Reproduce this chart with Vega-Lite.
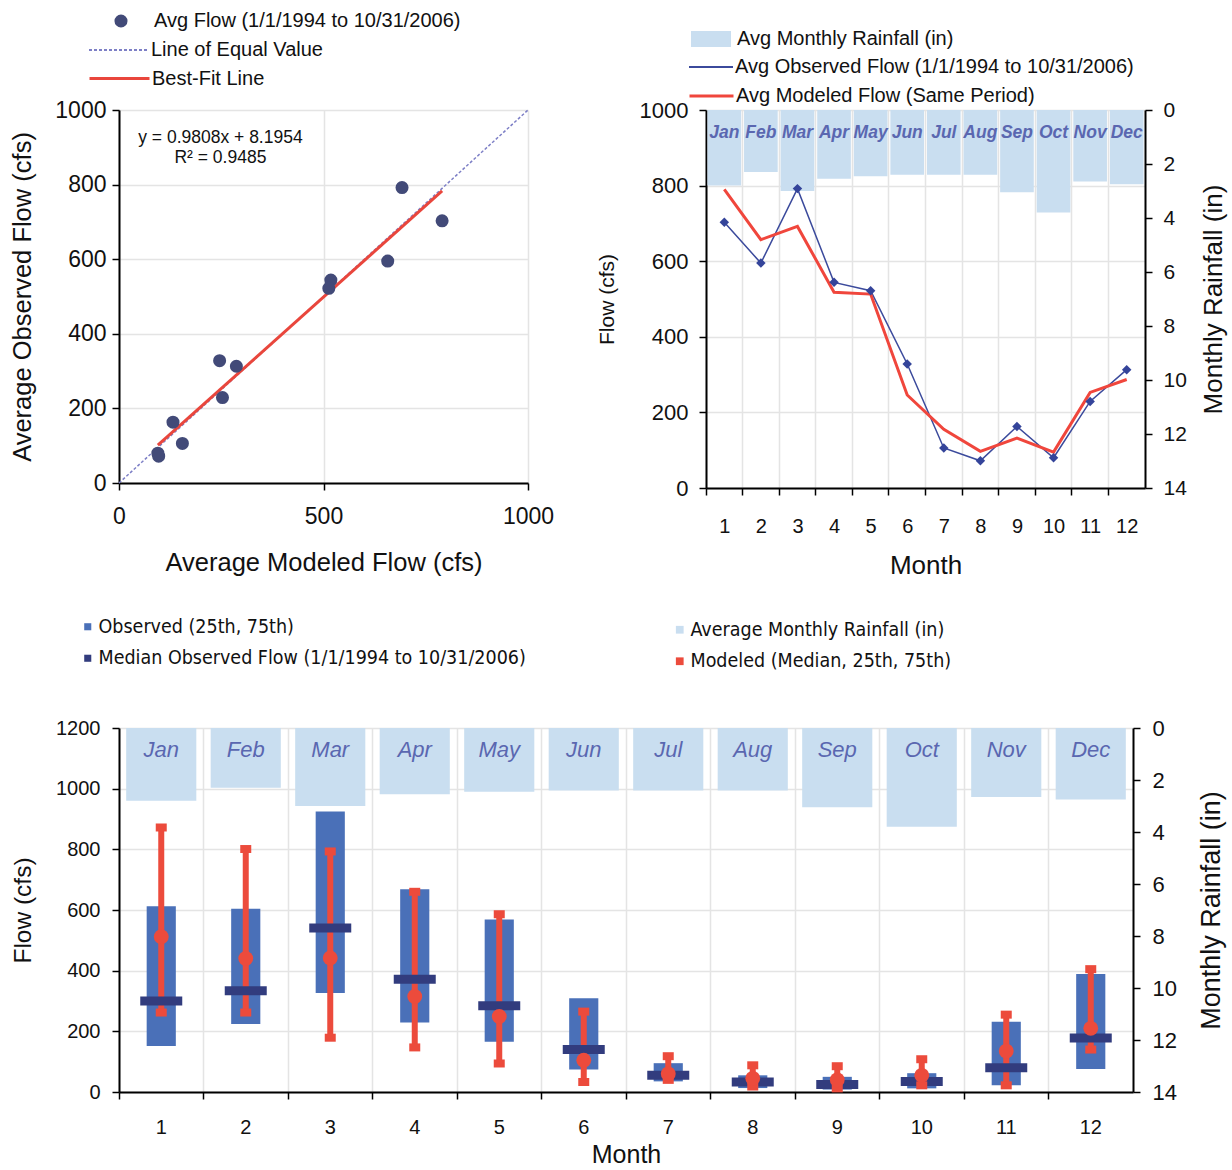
{
  "$schema": "https://vega.github.io/schema/vega-lite/v6.json",
  "background": "white",
  "padding": {"left": 10, "top": 11, "right": 2, "bottom": 0},
  "config": {
    "font": "Liberation Sans",
    "view": {"stroke": null},
    "axis": {
      "domainColor": "#000", "domainWidth": 2, "tickColor": "#000", "tickWidth": 1.5, "tickSize": 7,
      "labelFont": "Liberation Sans", "titleFont": "Liberation Sans", "labelFontSize": 20, "titleFontSize": 23,
      "titleFontWeight": "normal", "labelColor": "#111", "titleColor": "#111", "gridColor": "#e4e4e4", "gridWidth": 1.5,
      "labelFlush": false
    },
    "legend": {"labelFont": "Liberation Sans", "labelFontSize": 20, "labelColor": "#111", "padding": 0, "labelLimit": 700}
  },
  "datasets": {
    "m": [
      {"month": 1, "mon": "Jan", "obs": 703, "mod": 790, "rain": 2.8, "oq25": 152, "oq75": 612, "omed": 300, "mq25": 262, "mq75": 872, "mmed": 512},
      {"month": 2, "mon": "Feb", "obs": 595, "mod": 657, "rain": 2.3, "oq25": 224, "oq75": 604, "omed": 334, "mq25": 262, "mq75": 801, "mmed": 440},
      {"month": 3, "mon": "Mar", "obs": 792, "mod": 692, "rain": 3.0, "oq25": 326, "oq75": 925, "omed": 541, "mq25": 179, "mq75": 793, "mmed": 442},
      {"month": 4, "mon": "Apr", "obs": 544, "mod": 518, "rain": 2.55, "oq25": 229, "oq75": 668, "omed": 372, "mq25": 147, "mq75": 660, "mmed": 315},
      {"month": 5, "mon": "May", "obs": 522, "mod": 513, "rain": 2.45, "oq25": 166, "oq75": 569, "omed": 284, "mq25": 94, "mq75": 586, "mmed": 249},
      {"month": 6, "mon": "Jun", "obs": 328, "mod": 246, "rain": 2.4, "oq25": 74, "oq75": 309, "omed": 140, "mq25": 33, "mq75": 265, "mmed": 105},
      {"month": 7, "mon": "Jul", "obs": 106, "mod": 155, "rain": 2.4, "oq25": 35, "oq75": 95, "omed": 55, "mq25": 40, "mq75": 118, "mmed": 60},
      {"month": 8, "mon": "Aug", "obs": 72, "mod": 97, "rain": 2.4, "oq25": 13, "oq75": 55, "omed": 33, "mq25": 18, "mq75": 88, "mmed": 45},
      {"month": 9, "mon": "Sep", "obs": 163, "mod": 132, "rain": 3.05, "oq25": 8, "oq75": 50, "omed": 25, "mq25": 12, "mq75": 85, "mmed": 40},
      {"month": 10, "mon": "Oct", "obs": 80, "mod": 95, "rain": 3.8, "oq25": 12, "oq75": 62, "omed": 35, "mq25": 22, "mq75": 108, "mmed": 55},
      {"month": 11, "mon": "Nov", "obs": 229, "mod": 253, "rain": 2.65, "oq25": 22, "oq75": 232, "omed": 80, "mq25": 22, "mq75": 255, "mmed": 135},
      {"month": 12, "mon": "Dec", "obs": 313, "mod": 287, "rain": 2.75, "oq25": 76, "oq75": 389, "omed": 178, "mq25": 140, "mq75": 405, "mmed": 210}
    ],
    "eq": [
      {"mod": 0, "obs": 0, "s": "Line of Equal Value"},
      {"mod": 1000, "obs": 1000, "s": "Line of Equal Value"}
    ],
    "fit": [
      {"mod": 95, "obs": 101.4, "s": "Best-Fit Line"},
      {"mod": 790, "obs": 783, "s": "Best-Fit Line"}
    ],
    "ann": [
      {"mod": 248, "obs": 925, "t": "y = 0.9808x + 8.1954"},
      {"mod": 248, "obs": 871, "t": "R² = 0.9485"}
    ]
  },
  "vconcat": [
    {
      "hconcat": [
        {
          "width": 409, "height": 373,
          "layer": [
            {
              "data": {"name": "eq"},
              "mark": {"type": "line", "strokeWidth": 1.5, "strokeDash": [3, 2]},
              "encoding": {
                "x": {"field": "mod", "type": "quantitative", "scale": {"domain": [0, 1000], "nice": false}, "axis": {"orient": "bottom", "values": [0, 500, 1000], "format": "d", "grid": true, "labelPadding": 15, "titlePadding": 22, "labelFontSize": 23, "titleFontSize": 25.5}, "title": "Average Modeled Flow (cfs)"},
                "y": {"field": "obs", "type": "quantitative", "scale": {"domain": [0, 1000], "nice": false}, "axis": {"orient": "left", "values": [0, 200, 400, 600, 800, 1000], "format": "d", "grid": true, "labelPadding": 6, "titlePadding": 19, "labelFontSize": 23, "titleFontSize": 25.5}, "title": "Average Observed Flow (cfs)"},
                "stroke": {"field": "s", "type": "nominal", "scale": {"range": ["#7d7fc6"]}, "legend": {"title": null, "orient": "none", "legendX": -31, "legendY": -91, "symbolType": "stroke", "symbolSize": 3600, "symbolStrokeWidth": 2, "symbolDash": [3, 2], "labelOffset": 1}}
              }
            },
            {
              "data": {"name": "fit"},
              "mark": {"type": "line", "strokeWidth": 3},
              "encoding": {
                "x": {"field": "mod", "type": "quantitative", "scale": {"domain": [0, 1000], "nice": false}, "axis": {"orient": "bottom", "values": [0, 500, 1000], "format": "d", "grid": true, "labelPadding": 15, "titlePadding": 22, "labelFontSize": 23, "titleFontSize": 25.5}, "title": "Average Modeled Flow (cfs)"},
                "y": {"field": "obs", "type": "quantitative", "scale": {"domain": [0, 1000], "nice": false}, "axis": {"orient": "left", "values": [0, 200, 400, 600, 800, 1000], "format": "d", "grid": true, "labelPadding": 6, "titlePadding": 19, "labelFontSize": 23, "titleFontSize": 25.5}, "title": "Average Observed Flow (cfs)"},
                "color": {"field": "s", "type": "nominal", "scale": {"range": ["#e9463c"]}, "legend": {"title": null, "orient": "none", "legendX": -31, "legendY": -63, "symbolType": "stroke", "symbolSize": 3600, "symbolStrokeWidth": 3, "labelOffset": 1}}
              }
            },
            {
              "data": {"name": "m"},
              "mark": {"type": "point", "filled": true, "size": 170, "opacity": 1},
              "encoding": {
                "x": {"field": "mod", "type": "quantitative", "scale": {"domain": [0, 1000], "nice": false}, "axis": {"orient": "bottom", "values": [0, 500, 1000], "format": "d", "grid": true, "labelPadding": 15, "titlePadding": 22, "labelFontSize": 23, "titleFontSize": 25.5}, "title": "Average Modeled Flow (cfs)"},
                "y": {"field": "obs", "type": "quantitative", "scale": {"domain": [0, 1000], "nice": false}, "axis": {"orient": "left", "values": [0, 200, 400, 600, 800, 1000], "format": "d", "grid": true, "labelPadding": 6, "titlePadding": 19, "labelFontSize": 23, "titleFontSize": 25.5}, "title": "Average Observed Flow (cfs)"},
                "fill": {"datum": "Avg Flow (1/1/1994 to 10/31/2006)", "type": "nominal", "scale": {"range": ["#424a78"]}, "legend": {"title": null, "orient": "none", "legendX": -8, "legendY": -99, "symbolType": "circle", "symbolSize": 170, "labelOffset": 23}}
              }
            },
            {
              "data": {"name": "ann"},
              "mark": {"type": "text", "fontSize": 17.5, "color": "#111", "align": "center", "baseline": "middle"},
              "encoding": {
                "x": {"field": "mod", "type": "quantitative", "scale": {"domain": [0, 1000], "nice": false}, "axis": {"orient": "bottom", "values": [0, 500, 1000], "format": "d", "grid": true, "labelPadding": 15, "titlePadding": 22, "labelFontSize": 23, "titleFontSize": 25.5}, "title": "Average Modeled Flow (cfs)"},
                "y": {"field": "obs", "type": "quantitative", "scale": {"domain": [0, 1000], "nice": false}, "axis": {"orient": "left", "values": [0, 200, 400, 600, 800, 1000], "format": "d", "grid": true, "labelPadding": 6, "titlePadding": 19, "labelFontSize": 23, "titleFontSize": 25.5}, "title": "Average Observed Flow (cfs)"},
                "text": {"field": "t"}
              }
            }
          ]
        },
        {
          "width": 439, "height": 378,
          "data": {"name": "m"},
          "resolve": {"scale": {"x": "independent", "y": "independent"}},
          "layer": [
            {
              "layer": [
                {
                  "mark": {"type": "bar", "width": {"band": 0.92}},
                  "encoding": {
                    "x": {"field": "month", "type": "ordinal", "scale": {"paddingInner": 0, "paddingOuter": 0}, "axis": {"orient": "bottom", "bandPosition": 0, "labels": false, "ticks": true, "grid": true, "domain": true}, "title": null},
                    "y": {"field": "rain", "type": "quantitative", "scale": {"domain": [0, 14], "reverse": true, "nice": false}, "axis": {"orient": "right", "values": [0, 2, 4, 6, 8, 10, 12, 14], "grid": false, "labelPadding": 11, "titlePadding": 14, "labelFontSize": 21, "titleFontSize": 26, "titleAngle": 270, "titleBaseline": "top"}, "title": "Monthly Rainfall (in)"},
                    "fill": {"datum": "Avg Monthly Rainfall (in)", "type": "nominal", "scale": {"range": ["#c9def0"]}, "legend": {"title": null, "orient": "none", "legendX": -16, "legendY": -92, "symbolType": "M-1,-0.4H1V0.4H-1Z", "symbolSize": 1600, "labelOffset": 5}}
                  }
                },
                {
                  "mark": {"type": "text", "fontSize": 17.5, "fontStyle": "italic", "fontWeight": "bold", "color": "#5a67b0", "baseline": "middle", "align": "center"},
                  "encoding": {
                    "x": {"field": "month", "type": "ordinal", "scale": {"paddingInner": 0, "paddingOuter": 0}, "axis": {"orient": "bottom", "bandPosition": 0, "labels": false, "ticks": true, "grid": true, "domain": true}, "title": null},
                    "y": {"datum": 0.85, "type": "quantitative", "scale": {"domain": [0, 14], "reverse": true, "nice": false}, "axis": {"orient": "right", "values": [0, 2, 4, 6, 8, 10, 12, 14], "grid": false, "labelPadding": 11, "titlePadding": 14, "labelFontSize": 21, "titleFontSize": 26, "titleAngle": 270, "titleBaseline": "top"}, "title": "Monthly Rainfall (in)"},
                    "text": {"field": "mon"}
                  }
                }
              ]
            },
            {
              "layer": [
                {
                  "mark": {"type": "line", "strokeWidth": 1.5},
                  "encoding": {
                    "x": {"field": "month", "type": "ordinal", "scale": {"paddingInner": 0, "paddingOuter": 0}, "axis": {"orient": "bottom", "ticks": false, "domain": false, "grid": false, "labelAngle": 0, "labelPadding": 28, "titlePadding": 16, "titleFontSize": 26}, "title": "Month"},
                    "y": {"field": "obs", "type": "quantitative", "scale": {"domain": [0, 1000], "nice": false}, "axis": {"orient": "left", "values": [0, 200, 400, 600, 800, 1000], "format": "d", "grid": true, "labelPadding": 11, "titlePadding": 22, "labelFontSize": 22, "titleFontSize": 21}, "title": "Flow (cfs)"},
                    "stroke": {"datum": "Avg Observed Flow (1/1/1994 to 10/31/2006)", "type": "nominal", "scale": {"range": ["#3b4a9c"]}, "legend": {"title": null, "orient": "none", "legendX": -18, "legendY": -66, "symbolType": "stroke", "symbolSize": 1936, "symbolStrokeWidth": 2, "labelOffset": 1}}
                  }
                },
                {
                  "mark": {"type": "line", "strokeWidth": 3},
                  "encoding": {
                    "x": {"field": "month", "type": "ordinal", "scale": {"paddingInner": 0, "paddingOuter": 0}, "axis": {"orient": "bottom", "ticks": false, "domain": false, "grid": false, "labelAngle": 0, "labelPadding": 28, "titlePadding": 16, "titleFontSize": 26}, "title": "Month"},
                    "y": {"field": "mod", "type": "quantitative", "scale": {"domain": [0, 1000], "nice": false}, "axis": {"orient": "left", "values": [0, 200, 400, 600, 800, 1000], "format": "d", "grid": true, "labelPadding": 11, "titlePadding": 22, "labelFontSize": 22, "titleFontSize": 21}, "title": "Flow (cfs)"},
                    "color": {"datum": "Avg Modeled Flow (Same Period)", "type": "nominal", "scale": {"range": ["#f0463c"]}, "legend": {"title": null, "orient": "none", "legendX": -18, "legendY": -37.5, "symbolType": "stroke", "symbolSize": 1936, "symbolStrokeWidth": 3, "labelOffset": 1}}
                  }
                },
                {
                  "mark": {"type": "point", "shape": "diamond", "filled": true, "size": 90, "color": "#34449a", "opacity": 1},
                  "encoding": {
                    "x": {"field": "month", "type": "ordinal", "scale": {"paddingInner": 0, "paddingOuter": 0}, "axis": {"orient": "bottom", "ticks": false, "domain": false, "grid": false, "labelAngle": 0, "labelPadding": 28, "titlePadding": 16, "titleFontSize": 26}, "title": "Month"},
                    "y": {"field": "obs", "type": "quantitative", "scale": {"domain": [0, 1000], "nice": false}, "axis": {"orient": "left", "values": [0, 200, 400, 600, 800, 1000], "format": "d", "grid": true, "labelPadding": 11, "titlePadding": 22, "labelFontSize": 22, "titleFontSize": 21}, "title": "Flow (cfs)"}
                  }
                }
              ]
            }
          ]
        }
      ],
      "spacing": 42,
      "resolve": {
        "scale": {"color": "independent", "fill": "independent", "stroke": "independent", "strokeDash": "independent"},
        "legend": {"color": "independent", "fill": "independent", "stroke": "independent", "strokeDash": "independent"}
      }
    },
    {
      "width": 1014, "height": 364,
      "data": {"name": "m"},
      "resolve": {"scale": {"x": "independent", "y": "independent"}},
      "layer": [
        {
          "layer": [
            {
              "mark": {"type": "bar", "width": {"band": 0.83}},
              "encoding": {
                "x": {"field": "month", "type": "ordinal", "scale": {"paddingInner": 0, "paddingOuter": 0}, "axis": {"orient": "bottom", "bandPosition": 0, "labels": false, "ticks": true, "grid": true, "domain": true}, "title": null},
                "y": {"field": "rain", "type": "quantitative", "scale": {"domain": [0, 14], "reverse": true, "nice": false}, "axis": {"orient": "right", "values": [0, 2, 4, 6, 8, 10, 12, 14], "grid": false, "labelPadding": 12, "titlePadding": 22, "labelFontSize": 22, "titleFontSize": 27, "titleAngle": 270, "titleBaseline": "top"}, "title": "Monthly Rainfall (in)"},
                "fill": {"datum": "Average Monthly Rainfall (in)", "type": "nominal", "scale": {"domain": ["Average Monthly Rainfall (in)", "Modeled (Median, 25th, 75th)"], "range": ["#c9def0", "#ec4b3c"]}, "legend": {"title": null, "orient": "none", "legendX": 551, "legendY": -108, "symbolType": "square", "symbolSize": 60, "labelOffset": 1, "rowPadding": 10.5, "labelFont": "DejaVu Sans Condensed, Liberation Sans", "labelFontSize": 19.5}}
              }
            },
            {
              "mark": {"type": "text", "fontSize": 22, "fontStyle": "italic", "color": "#5a67b0", "baseline": "middle", "align": "center"},
              "encoding": {
                "x": {"field": "month", "type": "ordinal", "scale": {"paddingInner": 0, "paddingOuter": 0}, "axis": {"orient": "bottom", "bandPosition": 0, "labels": false, "ticks": true, "grid": true, "domain": true}, "title": null},
                "y": {"datum": 0.85, "type": "quantitative", "scale": {"domain": [0, 14], "reverse": true, "nice": false}, "axis": {"orient": "right", "values": [0, 2, 4, 6, 8, 10, 12, 14], "grid": false, "labelPadding": 12, "titlePadding": 22, "labelFontSize": 22, "titleFontSize": 27, "titleAngle": 270, "titleBaseline": "top"}, "title": "Monthly Rainfall (in)"},
                "text": {"field": "mon"}
              }
            }
          ]
        },
        {
          "layer": [
            {
              "mark": {"type": "bar", "width": {"band": 0.345}},
              "encoding": {
                "x": {"field": "month", "type": "ordinal", "scale": {"paddingInner": 0, "paddingOuter": 0}, "axis": {"orient": "bottom", "ticks": false, "domain": false, "grid": false, "labelAngle": 0, "labelPadding": 25, "titlePadding": 5, "titleFontSize": 25}, "title": "Month"},
                "y": {"field": "oq25", "type": "quantitative", "scale": {"domain": [0, 1200], "nice": false}, "axis": {"orient": "left", "values": [0, 200, 400, 600, 800, 1000, 1200], "format": "d", "grid": true, "labelPadding": 12, "titlePadding": 20, "titleFontSize": 24.5}, "title": "Flow (cfs)"},
                "y2": {"field": "oq75"},
                "color": {"datum": "Observed (25th, 75th)", "type": "nominal", "scale": {"domain": ["Observed (25th, 75th)", "Median Observed Flow (1/1/1994 to 10/31/2006)"], "range": ["#4a70b8", "#323c7e"]}, "legend": {"title": null, "orient": "none", "legendX": -41, "legendY": -111, "symbolType": "square", "symbolSize": 50, "labelOffset": 1, "rowPadding": 10.5, "labelFont": "DejaVu Sans Condensed, Liberation Sans", "labelFontSize": 19.5}}
              }
            },
            {
              "mark": {"type": "rule", "strokeWidth": 6, "color": "#ec4b3c"},
              "encoding": {
                "x": {"field": "month", "type": "ordinal", "scale": {"paddingInner": 0, "paddingOuter": 0}, "axis": {"orient": "bottom", "ticks": false, "domain": false, "grid": false, "labelAngle": 0, "labelPadding": 25, "titlePadding": 5, "titleFontSize": 25}, "title": "Month"},
                "y": {"field": "mq25", "type": "quantitative", "scale": {"domain": [0, 1200], "nice": false}, "axis": {"orient": "left", "values": [0, 200, 400, 600, 800, 1000, 1200], "format": "d", "grid": true, "labelPadding": 12, "titlePadding": 20, "titleFontSize": 24.5}, "title": "Flow (cfs)"},
                "y2": {"field": "mq75"}
              }
            },
            {
              "mark": {"type": "tick", "size": 42, "thickness": 9, "orient": "horizontal", "opacity": 1},
              "encoding": {
                "x": {"field": "month", "type": "ordinal", "scale": {"paddingInner": 0, "paddingOuter": 0}, "axis": {"orient": "bottom", "ticks": false, "domain": false, "grid": false, "labelAngle": 0, "labelPadding": 25, "titlePadding": 5, "titleFontSize": 25}, "title": "Month"},
                "y": {"field": "omed", "type": "quantitative", "scale": {"domain": [0, 1200], "nice": false}, "axis": {"orient": "left", "values": [0, 200, 400, 600, 800, 1000, 1200], "format": "d", "grid": true, "labelPadding": 12, "titlePadding": 20, "titleFontSize": 24.5}, "title": "Flow (cfs)"},
                "color": {"datum": "Median Observed Flow (1/1/1994 to 10/31/2006)", "type": "nominal", "scale": {"domain": ["Observed (25th, 75th)", "Median Observed Flow (1/1/1994 to 10/31/2006)"], "range": ["#4a70b8", "#323c7e"]}, "legend": {"title": null, "orient": "none", "legendX": -41, "legendY": -111, "symbolType": "square", "symbolSize": 50, "labelOffset": 1, "rowPadding": 10.5, "labelFont": "DejaVu Sans Condensed, Liberation Sans", "labelFontSize": 19.5}}
              }
            },
            {
              "mark": {"type": "tick", "size": 11, "thickness": 8, "orient": "horizontal", "color": "#ec4b3c", "opacity": 1},
              "encoding": {
                "x": {"field": "month", "type": "ordinal", "scale": {"paddingInner": 0, "paddingOuter": 0}, "axis": {"orient": "bottom", "ticks": false, "domain": false, "grid": false, "labelAngle": 0, "labelPadding": 25, "titlePadding": 5, "titleFontSize": 25}, "title": "Month"},
                "y": {"field": "mq75", "type": "quantitative", "scale": {"domain": [0, 1200], "nice": false}, "axis": {"orient": "left", "values": [0, 200, 400, 600, 800, 1000, 1200], "format": "d", "grid": true, "labelPadding": 12, "titlePadding": 20, "titleFontSize": 24.5}, "title": "Flow (cfs)"}
              }
            },
            {
              "mark": {"type": "tick", "size": 11, "thickness": 8, "orient": "horizontal", "color": "#ec4b3c", "opacity": 1},
              "encoding": {
                "x": {"field": "month", "type": "ordinal", "scale": {"paddingInner": 0, "paddingOuter": 0}, "axis": {"orient": "bottom", "ticks": false, "domain": false, "grid": false, "labelAngle": 0, "labelPadding": 25, "titlePadding": 5, "titleFontSize": 25}, "title": "Month"},
                "y": {"field": "mq25", "type": "quantitative", "scale": {"domain": [0, 1200], "nice": false}, "axis": {"orient": "left", "values": [0, 200, 400, 600, 800, 1000, 1200], "format": "d", "grid": true, "labelPadding": 12, "titlePadding": 20, "titleFontSize": 24.5}, "title": "Flow (cfs)"}
              }
            },
            {
              "mark": {"type": "point", "filled": true, "size": 220, "opacity": 1},
              "encoding": {
                "x": {"field": "month", "type": "ordinal", "scale": {"paddingInner": 0, "paddingOuter": 0}, "axis": {"orient": "bottom", "ticks": false, "domain": false, "grid": false, "labelAngle": 0, "labelPadding": 25, "titlePadding": 5, "titleFontSize": 25}, "title": "Month"},
                "y": {"field": "mmed", "type": "quantitative", "scale": {"domain": [0, 1200], "nice": false}, "axis": {"orient": "left", "values": [0, 200, 400, 600, 800, 1000, 1200], "format": "d", "grid": true, "labelPadding": 12, "titlePadding": 20, "titleFontSize": 24.5}, "title": "Flow (cfs)"},
                "fill": {"datum": "Modeled (Median, 25th, 75th)", "type": "nominal", "scale": {"domain": ["Average Monthly Rainfall (in)", "Modeled (Median, 25th, 75th)"], "range": ["#c9def0", "#ec4b3c"]}, "legend": {"title": null, "orient": "none", "legendX": 551, "legendY": -108, "symbolType": "square", "symbolSize": 60, "labelOffset": 1, "rowPadding": 10.5, "labelFont": "DejaVu Sans Condensed, Liberation Sans", "labelFontSize": 19.5}}
              }
            }
          ]
        }
      ]
    }
  ],
  "spacing": 39,
  "resolve": {
    "scale": {"color": "independent", "fill": "independent", "stroke": "independent", "strokeDash": "independent"},
    "legend": {"color": "independent", "fill": "independent", "stroke": "independent", "strokeDash": "independent"}
  }
}
